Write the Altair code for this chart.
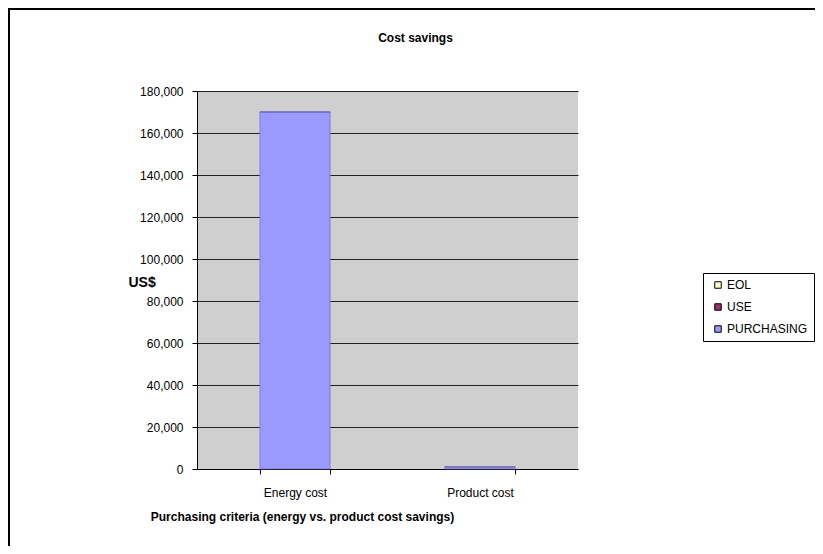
import altair as alt
import pandas as pd

categories = ["Energy cost", "Product cost"]
series = ["EOL", "USE", "PURCHASING"]
purchasing = [170000, 1000]
use = [0, 0]
eol = [0, 0]
colors = ["#FFFFCC", "#993366", "#9999FF"]
y_ticks = list(range(0, 180001, 20000))

rows = []
for i, c in enumerate(categories):
    rows.append({"criteria": c, "series": "PURCHASING", "value": purchasing[i], "order": 0})
    rows.append({"criteria": c, "series": "USE", "value": use[i], "order": 1})
    rows.append({"criteria": c, "series": "EOL", "value": eol[i], "order": 2})
df = pd.DataFrame(rows)

FONT = "Liberation Sans"

one = pd.DataFrame({"a": [0]})
frame_top = alt.Chart(one).mark_rule(color="black", strokeWidth=2).encode(
    x=alt.value(-189), x2=alt.value(700), y=alt.value(-82)
)
frame_left = alt.Chart(one).mark_rule(color="black", strokeWidth=2).encode(
    x=alt.value(-188), y=alt.value(-83), y2=alt.value(600)
)

bars = alt.Chart(df).mark_bar(stroke="#6f6fbf", strokeWidth=0.6).encode(
    x=alt.X(
        "criteria:N",
        sort=categories,
        scale=alt.Scale(paddingInner=0.62, paddingOuter=0.34),
        axis=alt.Axis(
            title="Purchasing criteria (energy vs. product cost savings)",
            labelAngle=0,
            tickBand="extent",
            tickSize=5,
            tickColor="black",
            domainColor="black",
            labelPadding=13,
            labelFont=FONT,
            labelFontSize=12,
            labelColor="black",
            titleFont=FONT,
            titleFontSize=12,
            titleFontWeight="bold",
            titleColor="black",
            titleX=105,
            titleY=47,
            titleAlign="center",
            titleBaseline="middle",
        ),
    ),
    y=alt.Y(
        "value:Q",
        stack="zero",
        scale=alt.Scale(domain=[0, 180000], nice=False),
        axis=alt.Axis(
            title="US$",
            values=y_ticks,
            format=",d",
            grid=True,
            gridColor="#222222",
            gridWidth=1,
            tickSize=5,
            tickColor="black",
            domainColor="black",
            labelPadding=9,
            labelFont=FONT,
            labelFontSize=12,
            labelColor="black",
            titleFont=FONT,
            titleFontSize=14,
            titleFontWeight="bold",
            titleColor="black",
            titleAngle=0,
            titleX=-69,
            titleY=191,
            titleAlign="left",
            titleBaseline="middle",
        ),
    ),
    color=alt.Color(
        "series:N",
        sort=series,
        scale=alt.Scale(domain=series, range=colors),
        legend=alt.Legend(
            title=None,
            orient="none",
            legendX=506,
            legendY=182,
            strokeColor="black",
            fillColor="white",
            padding=6,
            symbolOffset=3,
            symbolType="square",
            symbolSize=42,
            symbolStrokeColor="black",
            symbolStrokeWidth=1,
            labelFont=FONT,
            labelFontSize=12,
            labelColor="black",
            labelOffset=3,
            rowPadding=10,
        ),
    ),
    order=alt.Order("order:Q"),
)

chart = alt.layer(bars, frame_top, frame_left).properties(
    width=381,
    height=378,
    padding={"left": 189, "top": 83, "right": 237, "bottom": 77},
    autosize=alt.AutoSizeParams(type="none"),
    background="white",
    title=alt.TitleParams(
        "Cost savings",
        font=FONT,
        fontSize=12,
        fontWeight="bold",
        color="black",
        anchor="middle",
        frame="group",
        dx=28,
        offset=-38,
    ),
).configure_view(fill="#CFCFCF", stroke=None)

chart.save("out.html", embed_options={"renderer": "svg", "actions": False})
